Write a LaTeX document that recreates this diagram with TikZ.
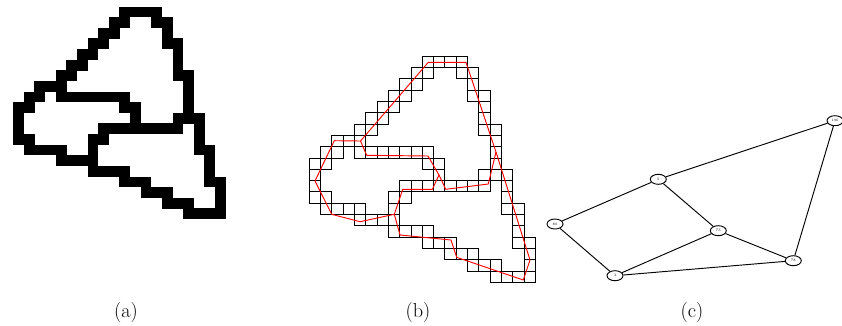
\documentclass[tikz,border=0pt]{standalone}
\usepackage{tikz}
\usetikzlibrary{shapes,positioning}

\begin{document}
\begin{tikzpicture}[x=0.03cm,y=-0.03cm,
    cellline/.style={draw=black,line width=0.8pt},
    redline/.style={draw=red,line width=0.8pt,line join=round},
    gnode/.style={draw,ellipse,line width=0.8pt,minimum width=0.48cm,minimum height=0.3cm,inner sep=0pt,font=\fontsize{3}{3}\selectfont},
    gedge/.style={line width=0.8pt},
    caption/.style={font=\LARGE}]
  \useasboundingbox (0,0) rectangle (842,325);
  % cells of the outline, row/columns
  \def\cells{0/{10,11,12,13},1/{9,10,13,14},2/{8,9,14},3/{7,8,14,15},4/{6,7,15},5/{5,6,15},
    6/{4,5,15,16},7/{2,3,4,16},8/{1,2,4,5,6,7,8,9,10,16},9/{0,1,10,11,16},10/{0,11,15,16,17},
    11/{0,8,9,10,11,12,13,14,15,17},12/{0,1,7,8,17},13/{1,2,3,4,7,17,18},14/{4,5,6,7,18},
    15/{7,8,9,10,18},16/{10,11,12,18,19},17/{12,13,14,19},18/{14,15,16,19},19/{16,17,18,19}}
  % (a) filled pixels
  \foreach \r/\cl in \cells {
    \foreach \c in \cl {
      \fill[black] (13.3+10.62*\c-0.1,6.7+10.62*\r-0.1) rectangle ++(10.82,10.82);
    }
  }
  % (b) grid cells
  \foreach \r/\cl in \cells {
    \foreach \c in \cl {
      \draw[cellline] (309+11.33*\c,56+11.33*\r) rectangle ++(11.33,11.33);
    }
  }
  % (b) red skeleton
  \coordinate (ta) at (428.3,62.3);
  \coordinate (tb) at (466,62.3);
  \coordinate (j1) at (360.5,141);
  \coordinate (j2) at (394.3,214.3);
  \coordinate (j3) at (496,152);
  \coordinate (j4) at (439,175);
  \draw[redline] (j1) -- (ta) -- (tb) -- (j3) -- (488.3,184) -- (445.7,189.3) -- (j4);
  \draw[redline] (j4) -- (428,156) -- (366.7,155.3) -- (j1);
  \draw[redline] (j1) -- (334.3,140.7) -- (315,181) -- (331.7,214.3) -- (360,221.7) -- (j2);
  \draw[redline] (j2) -- (402.7,189.3) -- (432.3,189.3) -- (j4);
  \draw[redline] (j2) -- (400,235) -- (451,240) -- (456.7,257.3) -- (523.3,280) -- (530,260) -- (j3);
  % (c) graph
  \node[gnode] (n86) at (555,224) {86};
  \node[gnode] (n5) at (658.3,179.3) {5};
  \node[gnode] (n196) at (835,120.7) {196};
  \node[gnode] (n73) at (718.3,230.7) {73};
  \node[gnode] (n78) at (793.3,260.7) {78};
  \node[gnode] (n3) at (615,275.7) {3};
  \draw[gedge] (n86) -- (n5);
  \draw[gedge] (n86) -- (n3);
  \draw[gedge] (n5) -- (n196);
  \draw[gedge] (n5) -- (n73);
  \draw[gedge] (n73) -- (n3);
  \draw[gedge] (n73) -- (n78);
  \draw[gedge] (n3) -- (n78);
  \draw[gedge] (n196) -- (n78);
  % captions
  \node[caption] (capa) at (126,312) {(a)};
  \node[caption] (capb) at (418,312) {(b)};
  \node[caption] (capc) at (692,312) {(c)};
\end{tikzpicture}
\end{document}
